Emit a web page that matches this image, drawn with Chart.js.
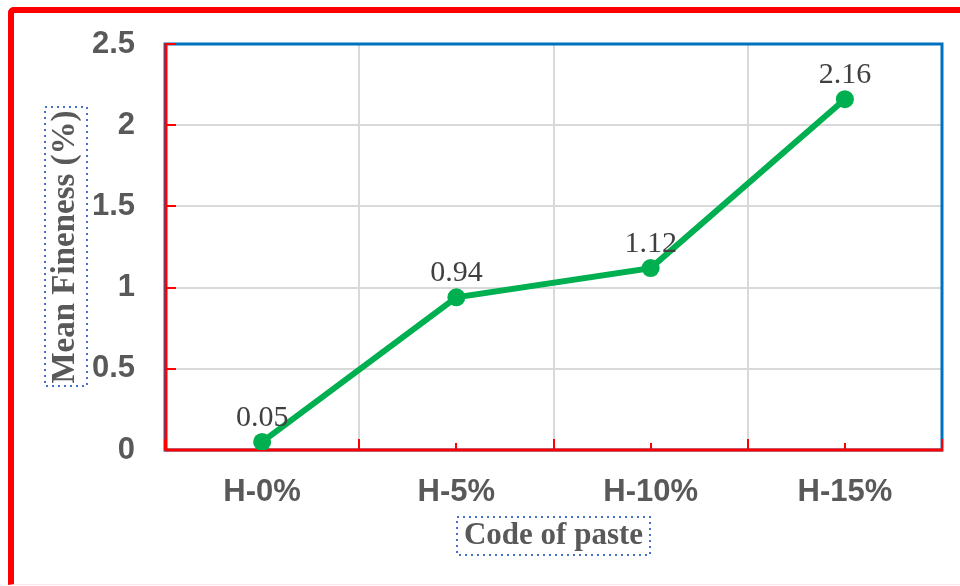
<!DOCTYPE html>
<html>
<head>
<meta charset="utf-8">
<script src="https://cdn.jsdelivr.net/npm/chart.js@4"></script>
<style>
  html, body { margin: 0; padding: 0; background: #fff; }
  body { width: 960px; height: 586px; position: relative; overflow: hidden; }
  #frame {
    position: absolute; left: 8px; top: 7px; width: 1000px; height: 571px;
    border-top: 6px solid #ff0000; border-left: 6px solid #ff0000;
    border-bottom: 1px solid #fbe4e8; border-top-left-radius: 6px;
  }
  #chart { position: absolute; left: 0; top: 0; }
</style>
</head>
<body>
<div id="frame"></div>
<canvas id="chart" width="960" height="586"></canvas>
<script>
// ---------------- Data ----------------
const codes = ["H-0%", "H-5%", "H-10%", "H-15%"];
const meanFineness = [0.05, 0.94, 1.12, 2.16];
const yTicks = [0, 0.5, 1, 1.5, 2, 2.5];
const yTickLabels = ["0", "0.5", "1", "1.5", "2", "2.5"];
const xTitle = "Code of paste";
const yTitle = "Mean Fineness (%)";

// ---------------- Fonts ----------------
const tickFont = { family: "'Liberation Sans', Arial, sans-serif", size: 31, weight: "bold" };
const xTitleFont = { family: "'Liberation Serif', 'Times New Roman', serif", size: 31, weight: "bold", lineHeight: 1.2 };
const yTitleFont = { family: "'Liberation Serif', 'Times New Roman', serif", size: 33, weight: "bold", lineHeight: 1.2 };
const xTitlePad = { top: 0, bottom: 31 };
const yTitlePad = { top: 46, bottom: 0 };

// ---------------- Plugins ----------------
// blue plot frame, red axes and red tick marks
const axisFrame = {
    id: "axisFrame",
    beforeDatasetsDraw(chart) {
        const { ctx, chartArea: a, scales: { x, y } } = chart;
        ctx.save();
        ctx.strokeStyle = "#0070c0";
        ctx.lineWidth = 3;
        ctx.strokeRect(a.left, a.top, a.right - a.left, a.bottom - a.top);

        ctx.strokeStyle = "#ff0000";
        ctx.lineWidth = 3;
        ctx.beginPath();
        ctx.moveTo(a.left + 1, a.top - 1);
        ctx.lineTo(a.left + 1, a.bottom);
        ctx.lineTo(a.right + 1, a.bottom);
        ctx.stroke();

        ctx.lineWidth = 2;
        ctx.beginPath();
        yTicks.forEach(v => {
            const py = Math.round(y.getPixelForValue(v));
            ctx.moveTo(a.left, py);
            ctx.lineTo(a.left + 11, py);
        });
        for (let i = 0; i <= codes.length; i++) {
            const px = Math.round(x.getPixelForValue(i - 0.5));
            ctx.moveTo(px, a.bottom);
            ctx.lineTo(px, a.bottom - 11);
        }
        codes.forEach((c, i) => {
            const px = Math.round(x.getPixelForValue(i));
            ctx.moveTo(px, a.bottom);
            ctx.lineTo(px, a.bottom - 7);
        });
        ctx.stroke();
        ctx.restore();
    },
    afterDatasetsDraw(chart) {
        // value labels above the points
        const { ctx } = chart;
        const meta = chart.getDatasetMeta(0);
        ctx.save();
        ctx.font = "30px 'Liberation Serif', 'Times New Roman', serif";
        ctx.fillStyle = "#404040";
        ctx.textAlign = "center";
        ctx.textBaseline = "alphabetic";
        meta.data.forEach((p, i) => {
            ctx.fillText(String(meanFineness[i]), p.x, p.y - 16);
        });
        ctx.restore();
    },
    afterDraw(chart) {
        // dotted boxes round the axis titles
        const { ctx, scales: { x, y } } = chart;
        ctx.save();
        ctx.strokeStyle = "#4472c4";
        ctx.lineWidth = 2;
        ctx.setLineDash([2, 4]);

        ctx.font = `bold ${xTitleFont.size}px ${xTitleFont.family}`;
        const xw = ctx.measureText(xTitle).width + 14;
        const xh = 38;
        const xcx = (x.left + x.right) / 2;
        const xcy = x.bottom - (xTitleFont.size * xTitleFont.lineHeight / 2 + xTitlePad.bottom);
        ctx.strokeRect(Math.round(xcx - xw / 2), Math.round(xcy - xh / 2), Math.round(xw), xh);

        ctx.font = `bold ${yTitleFont.size}px ${yTitleFont.family}`;
        const yh = ctx.measureText(yTitle).width + 6;
        const yw = 42;
        const ycx = y.left + yTitleFont.size * yTitleFont.lineHeight / 2 + yTitlePad.top;
        const ycy = (y.top + y.bottom) / 2;
        ctx.strokeRect(Math.round(ycx - yw / 2), Math.round(ycy - yh / 2), yw, Math.round(yh));
        ctx.restore();
    }
};

// ---------------- Chart ----------------
new Chart(document.getElementById("chart").getContext("2d"), {
    type: "line",
    data: {
        labels: codes,
        datasets: [{
            data: meanFineness,
            borderColor: "#00b050",
            backgroundColor: "#00b050",
            borderWidth: 6,
            pointRadius: 9,
            pointBorderWidth: 0,
            pointBackgroundColor: "#00b050",
            tension: 0
        }]
    },
    options: {
        responsive: false,
        animation: false,
        devicePixelRatio: 1,
        layout: { padding: { left: 0, right: 18, top: 44, bottom: 0 } },
        plugins: { legend: { display: false }, tooltip: { enabled: false } },
        scales: {
            x: {
                offset: true,
                grid: { offset: true, color: "#d9d9d9", lineWidth: 2, drawTicks: false },
                border: { display: false },
                ticks: { font: tickFont, color: "#595959", padding: 24 },
                title: { display: true, text: xTitle, font: xTitleFont, color: "#595959", padding: xTitlePad },
                afterFit(scale) { scale.height = 136; }
            },
            y: {
                min: 0,
                max: 2.5,
                ticks: {
                    stepSize: 0.5, font: tickFont, color: "#595959", padding: 30,
                    callback: v => yTickLabels[yTicks.indexOf(v)] ?? String(v)
                },
                grid: { color: "#d9d9d9", lineWidth: 2, drawTicks: false },
                border: { display: false },
                title: { display: true, text: yTitle, font: yTitleFont, color: "#595959", padding: yTitlePad },
                afterFit(scale) {
                    scale.width = 165;
                    scale.paddingTop = 0;
                    scale.paddingBottom = 0;
                }
            }
        }
    },
    plugins: [axisFrame]
});
</script>
</body>
</html>
